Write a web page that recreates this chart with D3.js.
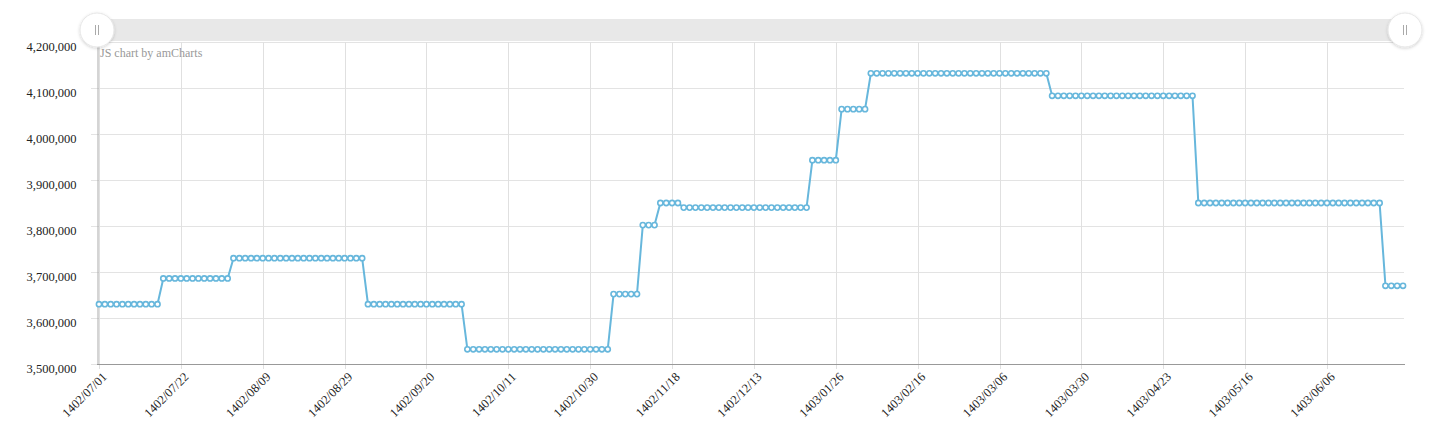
<!DOCTYPE html>
<html>
<head>
<meta charset="utf-8">
<script src="https://cdn.jsdelivr.net/npm/d3@7"></script>
<style>
  body { margin: 0; background: #fff; }
  svg text { font-family: "Liberation Serif", "Times New Roman", serif; }
</style>
</head>
<body>
<div id="chart"></div>
<script>
// daily price (one point per trading day, 1402/07/01 .. 1403/06)
const prices = [
  3630000, 3630000, 3630000, 3630000, 3630000, 3630000, 3630000, 3630000, 3630000, 3630000,
  3630000,
  3686000, 3686000, 3686000, 3686000, 3686000, 3686000, 3686000, 3686000, 3686000, 3686000,
  3686000, 3686000,
  3730000, 3730000, 3730000, 3730000, 3730000, 3730000, 3730000, 3730000, 3730000, 3730000,
  3730000, 3730000, 3730000, 3730000, 3730000, 3730000, 3730000, 3730000, 3730000, 3730000,
  3730000, 3730000, 3730000,
  3630000, 3630000, 3630000, 3630000, 3630000, 3630000, 3630000, 3630000, 3630000, 3630000,
  3630000, 3630000, 3630000, 3630000, 3630000, 3630000, 3630000,
  3532000, 3532000, 3532000, 3532000, 3532000, 3532000, 3532000, 3532000, 3532000, 3532000,
  3532000, 3532000, 3532000, 3532000, 3532000, 3532000, 3532000, 3532000, 3532000, 3532000,
  3532000, 3532000, 3532000, 3532000, 3532000,
  3652000, 3652000, 3652000, 3652000, 3652000,
  3802000, 3802000, 3802000,
  3850000, 3850000, 3850000, 3850000,
  3840000, 3840000, 3840000, 3840000, 3840000, 3840000, 3840000, 3840000, 3840000, 3840000,
  3840000, 3840000, 3840000, 3840000, 3840000, 3840000, 3840000, 3840000, 3840000, 3840000,
  3840000, 3840000,
  3943000, 3943000, 3943000, 3943000, 3943000,
  4054000, 4054000, 4054000, 4054000, 4054000,
  4132000, 4132000, 4132000, 4132000, 4132000, 4132000, 4132000, 4132000, 4132000, 4132000,
  4132000, 4132000, 4132000, 4132000, 4132000, 4132000, 4132000, 4132000, 4132000, 4132000,
  4132000, 4132000, 4132000, 4132000, 4132000, 4132000, 4132000, 4132000, 4132000, 4132000,
  4132000,
  4083000, 4083000, 4083000, 4083000, 4083000, 4083000, 4083000, 4083000, 4083000, 4083000,
  4083000, 4083000, 4083000, 4083000, 4083000, 4083000, 4083000, 4083000, 4083000, 4083000,
  4083000, 4083000, 4083000, 4083000, 4083000,
  3850000, 3850000, 3850000, 3850000, 3850000, 3850000, 3850000, 3850000, 3850000, 3850000,
  3850000, 3850000, 3850000, 3850000, 3850000, 3850000, 3850000, 3850000, 3850000, 3850000,
  3850000, 3850000, 3850000, 3850000, 3850000, 3850000, 3850000, 3850000, 3850000, 3850000,
  3850000, 3850000,
  3670000, 3670000, 3670000, 3670000
];

// category labels shown on the axis and the index of the point they sit under
const tickLabels = ["1402/07/01", "1402/07/22", "1402/08/09", "1402/08/29", "1402/09/20",
  "1402/10/11", "1402/10/30", "1402/11/18", "1402/12/13", "1403/01/26", "1403/02/16",
  "1403/03/06", "1403/03/30", "1403/04/23", "1403/05/16", "1403/06/06"];
const tickIndex = [0, 14, 28, 42, 56, 70, 84, 98, 112, 126, 140, 154, 168, 182, 196, 210];

const yTicks = [3500000, 3600000, 3700000, 3800000, 3900000, 4000000, 4100000, 4200000];

const width = 1438, height = 440;
const plot = { left: 98, right: 1404, top: 42, bottom: 364 };

const svg = d3.select("#chart").append("svg")
  .attr("width", width)
  .attr("height", height);

const x = d3.scalePoint()
  .domain(d3.range(prices.length))
  .range([plot.left + 1, plot.right - 1]);

const y = d3.scaleLinear()
  .domain([yTicks[0], yTicks[yTicks.length - 1]])
  .range([plot.bottom, plot.top]);

// grid
svg.append("g")
  .selectAll("line")
  .data(yTicks)
  .join("line")
    .attr("x1", plot.left - 7).attr("x2", plot.right)
    .attr("y1", d => y(d) + 0.5).attr("y2", d => y(d) + 0.5)
    .attr("stroke", "#e3e3e3");

svg.append("g")
  .selectAll("line")
  .data(tickIndex)
  .join("line")
    .attr("x1", d => Math.round(x(d)) + 0.5).attr("x2", d => Math.round(x(d)) + 0.5)
    .attr("y1", plot.top).attr("y2", plot.bottom + 5)
    .attr("stroke", "#e0e0e0");

// y axis
const yAxis = svg.append("g")
  .attr("transform", `translate(${plot.left - 0.5},0)`)
  .call(d3.axisLeft(y).tickValues(yTicks).tickFormat(d3.format(",")).tickSize(0).tickPadding(21));
yAxis.select(".domain").attr("stroke", "#aaa");
yAxis.selectAll("text")
  .attr("dy", "0.65em")
  .attr("fill", "#222")
  .style("font-size", "12.5px");

// x axis
const xAxis = svg.append("g")
  .attr("transform", `translate(0,${plot.bottom + 0.5})`)
  .call(d3.axisBottom(x).tickValues(tickIndex).tickFormat((d, i) => tickLabels[i]).tickSize(0));
xAxis.select(".domain").attr("stroke", "#999").attr("d", `M${plot.left - 1},0H${plot.right + 1}`);
xAxis.selectAll("text")
  .attr("fill", "#222")
  .style("font-size", "12.5px")
  .style("text-anchor", "end")
  .attr("dy", null)
  .attr("transform", "translate(6,11) rotate(-45)");

// price line
const line = d3.line()
  .x((d, i) => x(i))
  .y(d => y(d));

svg.append("path")
  .datum(prices)
  .attr("d", line)
  .attr("fill", "none")
  .attr("stroke", "#67b7dc")
  .attr("stroke-width", 2);

svg.append("g")
  .selectAll("circle")
  .data(prices)
  .join("circle")
    .attr("cx", (d, i) => x(i))
    .attr("cy", d => y(d))
    .attr("r", 2.6)
    .attr("fill", "#fff")
    .attr("stroke", "#67b7dc")
    .attr("stroke-width", 1.6);

// credit text
svg.append("text")
  .attr("x", plot.left + 2).attr("y", 57)
  .attr("fill", "#999")
  .style("font-size", "12px")
  .text("JS chart by amCharts");

// scrollbar
svg.append("rect")
  .attr("x", plot.left - 1).attr("y", 19)
  .attr("width", plot.right - plot.left + 2).attr("height", 22)
  .attr("fill", "#e8e8e8");

const defs = svg.append("defs");
const f = defs.append("filter").attr("id", "sh").attr("x", "-50%").attr("y", "-50%").attr("width", "200%").attr("height", "200%");
f.append("feDropShadow").attr("dx", 0).attr("dy", 1).attr("stdDeviation", 1.5).attr("flood-color", "#000").attr("flood-opacity", 0.18);

const grips = svg.append("g")
  .selectAll("g")
  .data([plot.left - 1, plot.right + 1])
  .join("g")
    .attr("transform", d => `translate(${d},30)`);
grips.append("circle")
  .attr("r", 17)
  .attr("fill", "#fff")
  .attr("stroke", "#e6e6e6")
  .attr("filter", "url(#sh)");
grips.append("path")
  .attr("d", "M-1.5,-5V5M1.5,-5V5")
  .attr("stroke", "#aaa")
  .attr("stroke-width", 1);
</script>
</body>
</html>
